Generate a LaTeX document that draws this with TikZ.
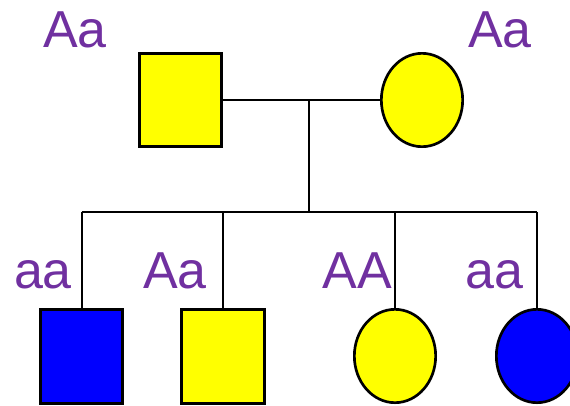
\documentclass[tikz,border=0pt]{standalone}
\usepackage{fontspec}
\setmainfont{Liberation Sans}
\definecolor{gtpurple}{RGB}{112,48,160}
\definecolor{pyellow}{RGB}{255,255,0}
\definecolor{pblue}{RGB}{0,0,255}
\tikzset{
  male/.style={draw,line width=2.2pt,minimum width=62pt,minimum height=70pt,inner sep=0pt},
  female/.style={draw,line width=2pt,ellipse,minimum width=61pt,minimum height=70pt,inner sep=0pt},
  geno/.style={text=gtpurple,font=\fontsize{39}{39}\selectfont,anchor=base,inner sep=0pt},
  link/.style={line width=1.5pt}
}
\usetikzlibrary{shapes.geometric}
\begin{document}
\begin{tikzpicture}[x=0.75pt,y=-0.75pt]
\useasboundingbox(0,0)rectangle(570,405);
% parents
\node[male,fill=pyellow](dad)at(180.5,100){};
\node[female,fill=pyellow](mom)at(422,100){};
\node[geno](gdad)at(75,47){Aa};
\node[geno](gmom)at(500,47){Aa};
\coordinate(mid)at(309,100);
\coordinate(sib)at(309,212);
\draw[link](dad.east)--(mom.west);
\draw[link](mid)--(sib);
% children
\node[male,fill=pblue](c1)at(81.5,356.5){};
\node[male,fill=pyellow](c2)at(223,356.5){};
\node[female,fill=pyellow](c3)at(395,356){};
\node[female,fill=pblue](c4)at(537,356){};
\foreach \c/\g/\x in {c1/aa/43,c2/Aa/175,c3/AA/357,c4/aa/494}{
  \node[geno](g\c)at(\x,288){\g};
  \draw[link](\c.north)--(\c.north|-sib);
}
\draw[link](c1.north|-sib)--(c4.north|-sib);
\end{tikzpicture}
\end{document}
